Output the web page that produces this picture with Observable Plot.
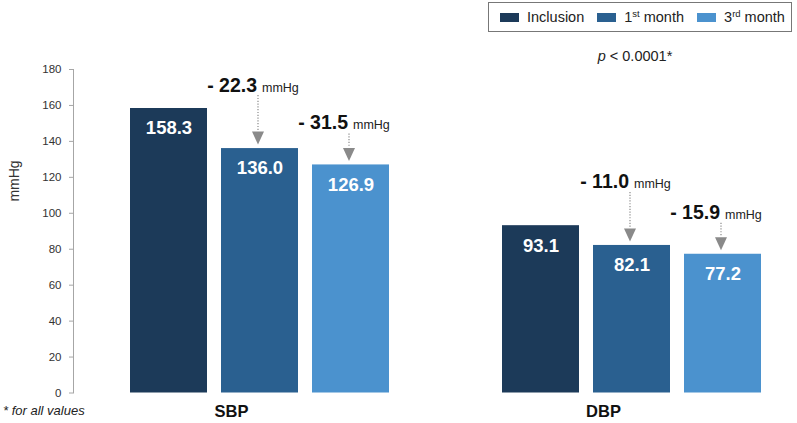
<!DOCTYPE html>
<html>
<head>
<meta charset="utf-8">
<script src="https://cdn.jsdelivr.net/npm/d3@7"></script>
<script src="https://cdn.jsdelivr.net/npm/@observablehq/plot@0.6"></script>
<style>
  html, body { margin: 0; padding: 0; background: #fff; }
  #wrap { position: relative; width: 797px; height: 423px; font-family: "Liberation Sans", Arial, sans-serif; color: #222; overflow: hidden; }
  #wrap svg { position: absolute; left: 0; top: 0; }
  .legend { position: absolute; left: 488px; top: 2px; width: 304px; height: 30px; border: 1px solid #777; box-sizing: border-box; display: flex; align-items: center; padding-left: 11px; font-size: 14.5px; color: #222; background: #fff; }
  .legend .item { display: flex; align-items: center; margin-right: 13px; white-space: nowrap; }
  .legend .sw { width: 19px; height: 9px; margin-right: 8px; }
  .legend sup { font-size: 9.5px; vertical-align: 0; position: relative; top: -5px; }
  .pval { position: absolute; left: 535px; width: 200px; text-align: center; top: 48px; font-size: 14.5px; color: #222; }
  .foot { position: absolute; left: 3px; top: 403px; font-size: 13px; font-style: italic; color: #222; }
  .ylab { position: absolute; left: 14px; top: 181px; font-size: 14px; color: #333; transform: translate(-50%, -50%) rotate(-90deg); white-space: nowrap; }
</style>
</head>
<body>
<div id="wrap"></div>
<script>
const groups = ["SBP", "DBP"];
const periods = ["Inclusion", "1st month", "3rd month"];
const sbpValues = [158.3, 136.0, 126.9];
const dbpValues = [93.1, 82.1, 77.2];
const sbpChange = [null, -22.3, -31.5];
const dbpChange = [null, -11.0, -15.9];
const yTicks = [0, 20, 40, 60, 80, 100, 120, 140, 160, 180];
const colors = ["#1c3a59", "#2a6090", "#4b92ce"];

const seriesValues = {SBP: sbpValues, DBP: dbpValues};
const seriesChange = {SBP: sbpChange, DBP: dbpChange};
const table = groups.flatMap(g => periods.map((p, i) => ({
  group: g, period: p, value: seriesValues[g][i], change: seriesChange[g][i]
})));
const changed = table.filter(d => d.change != null);
const firstSet = changed.filter(d => d.period === periods[1]);
const thirdSet = changed.filter(d => d.period === periods[2]);

const triangleDown = {
  draw(ctx) { ctx.moveTo(-6, -6.5); ctx.lineTo(6, -6.5); ctx.lineTo(0, 6.5); ctx.closePath(); }
};

function annotation(set, textOff, lineTop) {
  const base = {fx: "group", x: "period", y: "value"};
  return [
    Plot.ruleX(set, {fx: "group", x: "period", y1: "value", y2: "value", insetTop: -lineTop, insetBottom: 17, dx: -2, stroke: "#8a8a8a", strokeWidth: 1.2, strokeDasharray: "1.2,1.6"}),
    Plot.dot(set, {...base, symbol: triangleDown, r: 6, fill: "#8a8a8a", stroke: null, dy: -10.5, dx: -2}),
    Plot.text(set, {...base, text: d => `- ${Math.abs(d.change).toFixed(1)}`, textAnchor: "end", lineAnchor: "bottom", dy: -textOff, dx: -3, fontWeight: "bold", fontSize: 19.5, fill: "#111"}),
    Plot.text(set, {...base, text: () => "mmHg", textAnchor: "start", lineAnchor: "bottom", dy: -textOff, dx: 2, fontSize: 12.5, fill: "#222"})
  ];
}

const chart = Plot.plot({
  width: 797,
  height: 423,
  marginLeft: 73,
  marginRight: 35.3,
  marginTop: 69,
  marginBottom: 30.5,
  style: {fontFamily: "'Liberation Sans', Arial, sans-serif", background: "transparent", overflow: "visible"},
  fx: {domain: groups, paddingInner: 0.151, paddingOuter: 0, label: null},
  x: {domain: periods, paddingInner: 0.153, paddingOuter: 0.305, align: 1, axis: null},
  y: {domain: [0, 180]},
  color: {domain: periods, range: colors},
  marks: [
    Plot.frame({anchor: "left", stroke: "#a6a6a6", facetAnchor: "left"}),
    Plot.axisY({ticks: yTicks, tickSize: 4, tickPadding: 8, stroke: "#a6a6a6", fill: "#333", fontSize: 11.5, label: null}),
    Plot.axisFx({anchor: "bottom", tickSize: 0, tickPadding: 12, fontSize: 16.5, fontWeight: "bold", fill: "#111", label: null}),
    Plot.barY(table, {fx: "group", x: "period", y: "value", fill: "period"}),
    Plot.text(table, {fx: "group", x: "period", y: "value", text: d => d.value.toFixed(1), dy: 20, fill: "white", fontWeight: "bold", fontSize: 18.5}),
    ...annotation(firstSet, 57, 53),
    ...annotation(thirdSet, 35.5, 31)
  ]
});

const wrap = document.getElementById("wrap");
wrap.appendChild(chart);

const legend = document.createElement("div");
legend.className = "legend";
const legendLabels = ["Inclusion", "1<sup>st</sup> month", "3<sup>rd</sup> month"];
periods.forEach((p, i) => {
  const item = document.createElement("div");
  item.className = "item";
  item.innerHTML = `<span class="sw" style="background:${colors[i]}"></span><span>${legendLabels[i]}</span>`;
  legend.appendChild(item);
});
wrap.appendChild(legend);

const pval = document.createElement("div");
pval.className = "pval";
pval.innerHTML = "<i>p</i> &lt; 0.0001*";
wrap.appendChild(pval);

const foot = document.createElement("div");
foot.className = "foot";
foot.textContent = "* for all values";
wrap.appendChild(foot);

const ylab = document.createElement("div");
ylab.className = "ylab";
ylab.textContent = "mmHg";
wrap.appendChild(ylab);
</script>
</body>
</html>
